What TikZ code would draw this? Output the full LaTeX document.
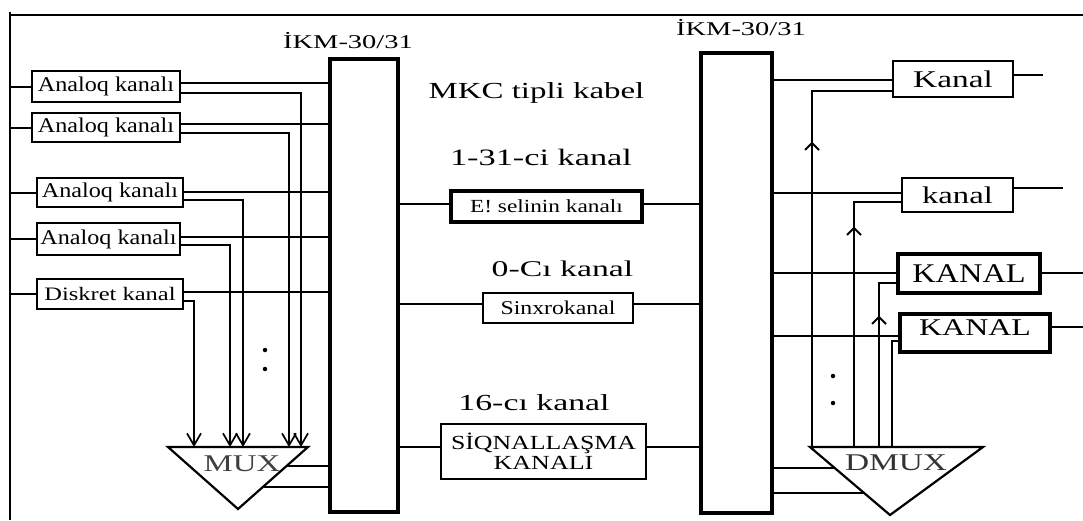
\documentclass[tikz,border=0pt]{standalone}
\usepackage{fontspec}
\setmainfont{Liberation Serif}
\usetikzlibrary{arrows.meta,calc}
\newcommand\T[3]{\scalebox{#2}[1]{\fontsize{#1}{#1}\selectfont #3}}
\begin{document}
\begin{tikzpicture}[x=1pt,y=-1pt,line width=2pt,
  box/.style={draw,line width=2.3pt,inner sep=0pt},
  tbox/.style={draw,line width=3.2pt,inner sep=0pt},
  ikm/.style={draw,line width=3.8pt,inner sep=0pt},
  conn/.style={line width=2pt},
  rconn/.style={line width=1.8pt},
  arr/.style={conn,-{Straight Barb[length=12pt,width=14pt,line width=1.7pt]}},
  chev/.style={line width=1.8pt},
  dot/.style={circle,fill,inner sep=0pt,minimum size=4.5pt},
  lbl/.style={anchor=base,inner sep=0pt}]
\useasboundingbox (0,0) rectangle (1083,520);

% frame lines
\coordinate (busT) at (10,12);
\coordinate (busB) at (10,520);
\coordinate (topR) at (1083,15);
\draw[line width=2.4pt] (busT) -- (busB);
\draw[line width=2pt] (busT |- topR) -- (topR);

% IKM blocks
\node[ikm,minimum width=68,minimum height=453] (ikmL) at (364,285.5) {};
\node[ikm,minimum width=71,minimum height=460] (ikmR) at (736.5,283) {};
\node[lbl] (lblL) at (348,48) {\T{19.5}{1.46}{İKM-30/31}};
\node[lbl] (lblR) at (741,35) {\T{19.5}{1.46}{İKM-30/31}};

% left channel boxes
\node[box,minimum width=148,minimum height=31] (a1) at (106,86.5) {\T{21}{1.15}{Analoq kanalı}};
\node[box,minimum width=148,minimum height=29] (a2) at (106,127.5) {\T{21}{1.15}{Analoq kanalı}};
\node[box,minimum width=146,minimum height=29] (a3) at (110,192.5) {\T{21}{1.15}{Analoq kanalı}};
\node[box,minimum width=143,minimum height=32] (a4) at (108.5,239) {\T{21}{1.15}{Analoq kanalı}};
\node[box,minimum width=146,minimum height=30] (d5) at (110,294) {\T{19}{1.29}{Diskret kanal}};

\foreach \b in {a1,a2,a3,a4,d5} \draw[conn] (\b.west -| busT) -- (\b.west);

% upper outputs to IKM
\draw[conn] (a1.east |- 0,83) -- (ikmL.west |- 0,83);
\draw[conn] (a2.east |- 0,124) -- (ikmL.west |- 0,124);
\draw[conn] (a3.east |- 0,192) -- (ikmL.west |- 0,192);
\draw[conn] (a4.east |- 0,237) -- (ikmL.west |- 0,237);
\draw[conn] (d5.east |- 0,292) -- (ikmL.west |- 0,292);

% MUX
\coordinate (muxL) at (168,447);
\coordinate (muxR) at (308,447);
\coordinate (muxB) at (238,509);
\draw[line width=2.2pt,line join=miter] (muxL) -- (muxR) -- (muxB) -- cycle;
\node[lbl,text=black!75] (muxlab) at (242,471) {\T{24}{1.37}{MUX}};
\coordinate (m1) at (301,447);
\coordinate (m2) at (289,447);
\coordinate (m3) at (243,447);
\coordinate (m4) at (230,447);
\coordinate (m5) at (194,447);
\draw[arr] (a1.east |- 0,93) -| (m1);
\draw[arr] (a2.east |- 0,133) -| (m2);
\draw[arr] (a3.east |- 0,200) -| (m3);
\draw[arr] (a4.east |- 0,245) -| (m4);
\draw[arr] (d5.east |- 0,301) -| (m5);
\node[dot] (ld1) at (265,350) {};
\node[dot] (ld2) at (265,369) {};
\coordinate (mo1) at ($(muxR)!0.306!(muxB)$);
\coordinate (mo2) at ($(muxR)!0.645!(muxB)$);
\draw[conn] (mo1) -- (mo1 -| ikmL.west);
\draw[conn] (mo2) -- (mo2 -| ikmL.west);

% middle
\node[lbl] (mkc) at (536.5,98) {\T{23}{1.43}{MKC tipli kabel}};
\node[lbl] (c131) at (541,165) {\T{23.5}{1.46}{1-31-ci kanal}};
\node[tbox,minimum width=191,minimum height=31] (e1) at (546.5,206.5) {\T{18.5}{1.26}{E! selinin kanalı}};
\node[lbl] (c0) at (562.5,276) {\T{22.5}{1.5}{0-Cı kanal}};
\node[box,minimum width=150,minimum height=30] (s1) at (558,308) {\T{19.5}{1.22}{Sinxrokanal}};
\node[lbl] (c16) at (534,410) {\T{23}{1.47}{16-cı kanal}};
\node[box,minimum width=205,minimum height=55,align=center] (q1) at (543.5,451.5)
  {\T{20}{1.29}{SİQNALLAŞMA}\\[2pt]\T{20}{1.3}{KANALI}};

\draw[conn] (ikmL.east |- 0,204) -- (e1.west |- 0,204);
\draw[conn] (e1.east |- 0,204) -- (ikmR.west |- 0,204);
\draw[conn] (ikmL.east |- 0,304) -- (s1.west |- 0,304);
\draw[conn] (s1.east |- 0,304) -- (ikmR.west |- 0,304);
\draw[conn] (ikmL.east |- 0,447) -- (q1.west |- 0,447);
\draw[conn] (q1.east |- 0,447) -- (ikmR.west |- 0,447);

% right channel boxes
\node[box,line width=2pt,minimum width=120,minimum height=36] (k1) at (953,79) {\T{24}{1.39}{Kanal}};
\node[box,line width=2pt,minimum width=111,minimum height=34] (k2) at (957.5,195) {\T{24}{1.36}{kanal}};
\node[tbox,minimum width=142,minimum height=39] (k3) at (969,273.5) {\T{27}{1.2}{KANAL}};
\node[tbox,minimum width=150,minimum height=38,text depth=10pt] (k4) at (975,333) {\T{24}{1.33}{KANAL}};

\coordinate (o1) at (1043,75);
\coordinate (o2) at (1063,188);
\coordinate (o3) at (1083,273);
\coordinate (o4) at (1083,327);
\draw[rconn] (k1.east |- o1) -- (o1);
\draw[rconn] (k2.east |- o2) -- (o2);
\draw[rconn] (k3.east |- o3) -- (o3);
\draw[rconn] (k4.east |- o4) -- (o4);

\draw[rconn] (ikmR.east |- 0,80) -- (k1.west |- 0,80);
\draw[rconn] (ikmR.east |- 0,193) -- (k2.west |- 0,193);
\draw[rconn] (ikmR.east |- 0,273) -- (k3.west |- 0,273);
\draw[rconn] (ikmR.east |- 0,336) -- (k4.west |- 0,336);

% DMUX
\coordinate (dL) at (810,447);
\coordinate (dR) at (983,447);
\coordinate (dB) at (890,515);
\draw[line width=2.2pt,line join=miter] (dL) -- (dR) -- (dB) -- cycle;
\node[lbl,text=black!80] (dmuxlab) at (896,470) {\T{24}{1.39}{DMUX}};
\coordinate (dm1) at (812,447);
\coordinate (dm2) at (854,447);
\coordinate (dm3) at (879,447);
\coordinate (dm4) at (892,447);
\draw[rconn] (k1.west |- 0,91) -| (dm1);
\draw[rconn] (k2.west |- 0,202) -| (dm2);
\draw[rconn] (k3.west |- 0,283) -| (dm3);
\draw[rconn] (k4.west |- 0,341) -| (dm4);
\foreach \p/\yy in {dm1/143,dm2/228,dm3/317}
  \draw[chev] ($(\p |- 0,\yy)+(-7,7)$) -- (\p |- 0,\yy) -- ($(\p |- 0,\yy)+(7,7)$);
\node[dot] (rd1) at (833,376) {};
\node[dot] (rd2) at (833,403) {};
\coordinate (do1) at ($(dL)!0.309!(dB)$);
\coordinate (do2) at ($(dL)!0.676!(dB)$);
\draw[rconn] (do1 -| ikmR.east) -- (do1);
\draw[rconn] (do2 -| ikmR.east) -- (do2);
\end{tikzpicture}
\end{document}
